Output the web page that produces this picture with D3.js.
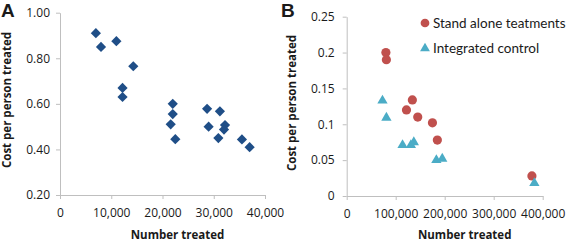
<!DOCTYPE html>
<html>
<head>
<meta charset="utf-8" />
<title>cost per person treated</title>
<script src="https://cdn.jsdelivr.net/npm/d3@7/dist/d3.min.js"></script>
<style>
  body { margin: 0; background: #fff; }
  svg text { font-family: "Open Sans", sans-serif; fill: #1a1a1a; }
  .axis path, .axis line { stroke: #bfbfbf; }
</style>
</head>
<body>
<svg id="chart" width="567" height="243"></svg>
<script>
// panel A - diamonds
var numA = [7000, 8000, 11000, 14300, 12200, 12200, 22000, 22000, 21600, 22500,
            28700, 29000, 31200, 30900, 32200, 32000, 35500, 37000];
var costA = [0.91, 0.85, 0.875, 0.765, 0.67, 0.63, 0.60, 0.555, 0.51, 0.445,
             0.578, 0.50, 0.567, 0.45, 0.507, 0.487, 0.444, 0.41];

// panel B - two series
var numStand = [80000, 81000, 134000, 122000, 145000, 175000, 185000, 378000];
var costStand = [0.20, 0.19, 0.134, 0.12, 0.11, 0.102, 0.078, 0.028];
var numInteg = [73000, 81000, 114000, 131000, 137000, 183000, 195000, 383000];
var costInteg = [0.133, 0.109, 0.071, 0.071, 0.075, 0.05, 0.052, 0.018];

var ticksAX = [0, 10000, 20000, 30000, 40000];
var ticksAY = [0.2, 0.4, 0.6, 0.8, 1.0];
var ticksBX = [0, 100000, 200000, 300000, 400000];
var ticksBY = [0, 0.05, 0.1, 0.15, 0.2, 0.25];
var legendLabels = ['Stand alone teatments', 'Integrated control'];
var legendColors = ['#c0504d', '#4bacc6'];

var svg = d3.select('#chart');

function zip(xs, ys) {
  return xs.map(function (x, i) { return { x: x, y: ys[i] }; });
}

// draws one panel frame and returns its scales
function makePanel(opt) {
  var scX = d3.scaleLinear().domain(opt.xDomain).range(opt.xRange);
  var scY = d3.scaleLinear().domain(opt.yDomain).range(opt.yRange);

  svg.append('g')
    .attr('class', 'axis')
    .attr('transform', 'translate(0,' + opt.yRange[0] + ')')
    .call(d3.axisBottom(scX).tickValues(opt.xTicks).tickSize(4).tickSizeOuter(0)
      .tickPadding(9).tickFormat(d3.format(',')))
    .call(function (g) { g.selectAll('text').attr('font-size', 12).attr('font-family', null); });

  svg.append('g')
    .attr('class', 'axis')
    .attr('transform', 'translate(' + opt.xRange[0] + ',0)')
    .call(d3.axisLeft(scY).tickValues(opt.yTicks).tickSize(4).tickSizeOuter(0)
      .tickPadding(opt.yPad).tickFormat(opt.yFormat))
    .call(function (g) { g.selectAll('text').attr('font-size', 12).attr('font-family', null); });

  var midX = (opt.xRange[0] + opt.xRange[1]) / 2;
  svg.append('text')
    .attr('x', midX + opt.titleShift).attr('y', 239)
    .attr('text-anchor', 'middle')
    .attr('font-weight', 'bold').attr('font-size', 11.5)
    .text('Number treated');

  svg.append('text')
    .attr('transform', 'translate(' + opt.yTitleX + ',' + opt.yTitleY + ') rotate(-90)')
    .attr('text-anchor', 'middle')
    .attr('font-weight', 'bold').attr('font-size', 11.5)
    .text('Cost per person treated');

  svg.append('text')
    .attr('x', opt.letterX).attr('y', 17)
    .style('font-family', 'Liberation Sans, Arial, sans-serif')
    .attr('font-weight', 'bold').attr('font-size', 19)
    .text(opt.letter);

  return { x: scX, y: scY };
}

// ---- panel A
var pA = makePanel({
  xDomain: [0, 40000], xRange: [60, 265],
  yDomain: [0.2, 1.0], yRange: [195, 12.7],
  xTicks: ticksAX, yTicks: ticksAY, yPad: 6,
  yFormat: d3.format('.2f'),
  titleShift: 15, yTitleX: 11, yTitleY: 100,
  letter: 'A', letterX: 1
});

svg.append('g').selectAll('path')
  .data(zip(numA, costA))
  .enter().append('path')
  .attr('d', d3.symbol(d3.symbolSquare, 52)())
  .attr('transform', function (d) {
    return 'translate(' + pA.x(d.x) + ',' + pA.y(d.y) + ') rotate(45)';
  })
  .attr('fill', '#1f4e87');

// ---- panel B
var pB = makePanel({
  xDomain: [0, 400000], xRange: [346.7, 542.7],
  yDomain: [0, 0.25], yRange: [196, 16.7],
  xTicks: ticksBX, yTicks: ticksBY, yPad: 8,
  yFormat: function (d) { return d3.format('~g')(d); },
  titleShift: 20, yTitleX: 296, yTitleY: 103,
  letter: 'B', letterX: 281
});

var gB = svg.append('g');
gB.selectAll('circle')
  .data(zip(numStand, costStand))
  .enter().append('circle')
  .attr('cx', function (d) { return pB.x(d.x); })
  .attr('cy', function (d) { return pB.y(d.y); })
  .attr('r', 4.6)
  .attr('fill', legendColors[0]);

gB.selectAll('path.tri')
  .data(zip(numInteg, costInteg))
  .enter().append('path')
  .attr('class', 'tri')
  .attr('d', d3.symbol(d3.symbolTriangle, 46)())
  .attr('transform', function (d) {
    return 'translate(' + pB.x(d.x) + ',' + pB.y(d.y) + ')';
  })
  .attr('fill', legendColors[1]);

// legend
var lg = svg.append('g').attr('transform', 'translate(425,23)');
var items = lg.selectAll('g').data(legendLabels).enter().append('g')
  .attr('transform', function (d, i) { return 'translate(0,' + i * 25.5 + ')'; });
items.append('path')
  .attr('d', function (d, i) {
    return d3.symbol(i === 0 ? d3.symbolCircle : d3.symbolTriangle, i === 0 ? 60 : 42)();
  })
  .attr('fill', function (d, i) { return legendColors[i]; });
items.append('text')
  .attr('x', 8).attr('dy', '0.36em')
  .style('font-family', 'Lato, sans-serif')
  .attr('font-size', 13.5)
  .text(function (d) { return d; });
</script>
</body>
</html>
